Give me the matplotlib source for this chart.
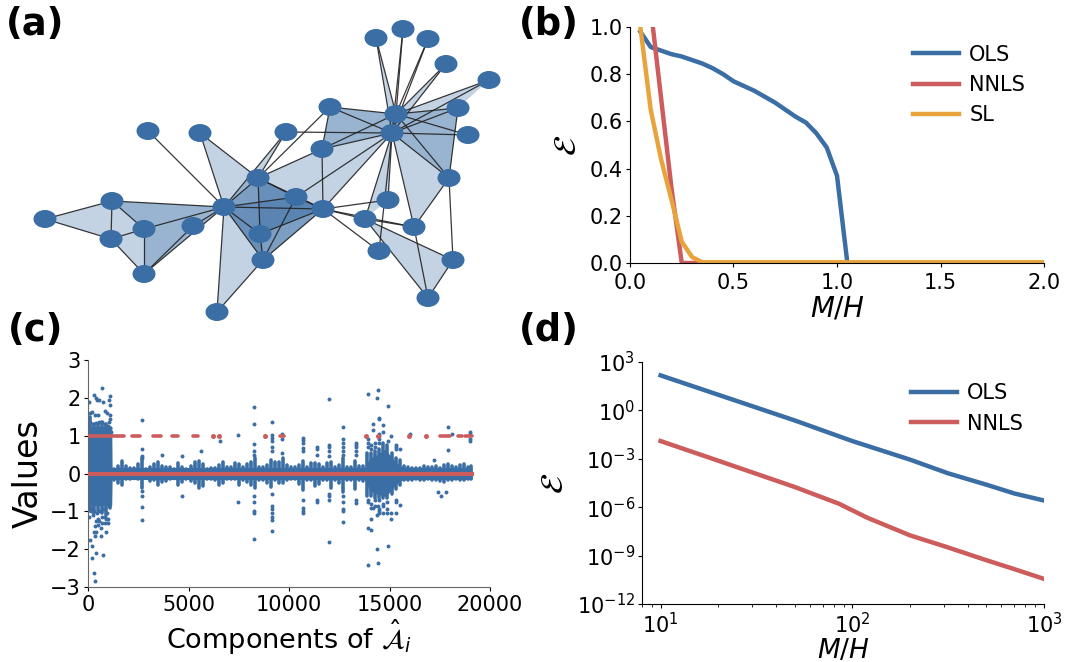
import matplotlib
matplotlib.use("Agg")
import matplotlib.pyplot as plt
from matplotlib.patches import Ellipse, Polygon
from matplotlib.ticker import NullLocator

BLUE = "#3a6ea5"
RED = "#cd5c5c"
ORANGE = "#e8a33d"
W, H = 1069, 662

# panel a: simplicial complex, node positions read in picture pixels
node_x = [45, 112, 111, 144, 144, 193, 224, 148, 200, 258, 286, 330, 322, 296, 323, 260, 263, 217,
          365, 388, 414, 379, 453, 428, 449, 392, 396, 468, 458, 489, 446, 428, 403, 376]
node_y = [219, 201, 239, 229, 274, 226, 207, 131, 133, 178, 132, 107, 149, 197, 209, 234, 260, 312,
          219, 200, 227, 251, 260, 298, 178, 133, 114, 135, 108, 80, 64, 39, 29, 38]
edges = [(0, 1), (0, 2), (1, 2), (1, 3), (2, 3), (3, 4), (2, 4), (1, 6), (3, 6), (4, 5), (4, 6), (5, 6),
         (7, 6), (8, 6), (8, 9), (9, 6), (9, 10), (6, 10), (9, 11), (9, 12), (9, 13), (9, 15), (9, 14),
         (6, 13), (6, 14), (6, 15), (6, 16), (6, 17), (16, 17), (15, 16), (13, 16), (14, 16), (14, 15),
         (13, 14), (12, 14), (13, 25), (14, 25), (14, 18), (14, 19), (14, 20), (14, 21), (12, 25),
         (12, 26), (11, 12), (11, 25), (11, 26), (10, 25), (18, 25), (19, 25), (21, 25), (18, 20),
         (18, 22), (18, 23), (22, 23), (20, 23), (22, 24), (20, 24), (20, 25), (24, 25), (24, 26),
         (24, 28), (25, 27), (26, 27), (25, 28), (26, 28), (26, 29), (25, 29), (26, 30), (25, 30),
         (26, 31), (25, 31), (26, 32), (25, 32), (26, 33), (25, 33), (25, 26)]
triangles = [(0, 1, 2), (1, 2, 3), (2, 3, 4), (1, 3, 6), (1, 3, 6), (3, 4, 6), (3, 5, 6), (4, 5, 6), (3, 4, 5),
             (8, 9, 6), (6, 9, 10), (6, 16, 17), (9, 12, 14), (12, 14, 25),
             (6, 9, 14), (6, 14, 16), (9, 14, 16), (6, 9, 16), (6, 15, 16), (9, 13, 14), (9, 14, 15),
             (13, 14, 16), (6, 13, 14), (6, 9, 13), (6, 13, 16), (9, 15, 16), (6, 14, 15),
             (11, 12, 25), (11, 12, 26), (11, 25, 26), (12, 25, 26),
             (24, 25, 26), (24, 25, 28), (24, 26, 28), (25, 26, 28),
             (20, 24, 25), (18, 19, 25), (18, 22, 23), (25, 26, 33), (25, 26, 30), (26, 28, 29)]

# panel b
b_ols_x = [0.05, 0.1, 0.15, 0.2, 0.25, 0.3, 0.35, 0.4, 0.45, 0.5, 0.55, 0.6, 0.65, 0.7, 0.75, 0.8, 0.85,
           0.9, 0.95, 1.0, 1.05, 2.0]
b_ols_y = [0.98, 0.915, 0.90, 0.885, 0.875, 0.86, 0.845, 0.825, 0.80, 0.77, 0.75, 0.73, 0.705, 0.68,
           0.65, 0.62, 0.595, 0.55, 0.49, 0.37, 0.0, 0.0]
b_nnls_x = [0.1, 0.15, 0.2, 0.25, 2.0]
b_nnls_y = [1.08, 0.70, 0.32, 0.0, 0.0]
b_sl_x = [0.05, 0.1, 0.15, 0.2, 0.25, 0.3, 0.35, 2.0]
b_sl_y = [1.0, 0.65, 0.44, 0.27, 0.09, 0.025, 0.003, 0.003]

# panel c: solid body of the blue cloud
solid_x = [0, 1180, 1200, 13700, 13800, 14000, 14400, 14800, 15000, 15300, 15600, 15900, 19100]
solid_hi = [1.25, 1.25, 0.16, 0.16, 0.18, 0.4, 0.5, 0.65, 0.5, 0.3, 0.18, 0.16, 0.16]
solid_lo = [-0.85, -0.85, -0.16, -0.16, -0.18, -0.45, -0.55, -0.6, -0.5, -0.3, -0.18, -0.16, -0.16]

# thin columns on the body, one every 200 components
band_x = [100, 300, 500, 700, 900, 1100, 1300, 1500, 1700, 1900, 2100, 2300, 2500, 2700, 2900, 3100,
          3300, 3500, 3700, 3900, 4100, 4300, 4500, 4700, 4900, 5100, 5300, 5500, 5700, 5900, 6100,
          6300, 6500, 6700, 6900, 7100, 7300, 7500, 7700, 7900, 8100, 8300, 8500, 8700, 8900, 9100,
          9300, 9500, 9700, 9900, 10100, 10300, 10500, 10700, 10900, 11100, 11300, 11500, 11700,
          11900, 12100, 12300, 12500, 12700, 12900, 13100, 13300, 13500, 13700, 13900, 14100, 14300,
          14500, 14700, 14900, 15100, 15300, 15500, 15700, 15900, 16100, 16300, 16500, 16700, 16900,
          17100, 17300, 17500, 17700, 17900, 18100, 18300, 18500, 18700, 18900, 19050]
band_hi = [1.5, 1.3, 1.3, 1.35, 1.3, 1.2, 0.13, 0.2, 0.32, 0.2, 0.14, 0.15, 0.25, 0.42, 0.13, 0.18,
           0.24, 0.3, 0.2, 0.16, 0.18, 0.13, 0.28, 0.18, 0.12, 0.2, 0.3, 0.34, 0.25, 0.12, 0.14,
           0.14, 0.22, 0.3, 0.18, 0.18, 0.28, 0.24, 0.16, 0.26, 0.3, 0.4, 0.18, 0.18, 0.22, 0.35,
           0.3, 0.3, 0.4, 0.22, 0.18, 0.18, 0.22, 0.34, 0.18, 0.28, 0.28, 0.24, 0.16,
           0.28, 0.3, 0.18, 0.22, 0.42, 0.18, 0.16, 0.34, 0.2, 0.2, 0.55, 0.55, 0.6,
           0.65, 0.8, 0.75, 0.55, 0.4, 0.35, 0.2, 0.18, 0.14, 0.14, 0.15, 0.2, 0.16,
           0.18, 0.2, 0.15, 0.22, 0.24, 0.2, 0.18, 0.22, 0.25, 0.18, 0.2]
band_lo = [-1.0, -1.05, -1.0, -1.05, -1.1, -0.9, -0.18, -0.25, -0.3, -0.14, -0.14, -0.13, -0.14, -0.38,
           -0.12, -0.2, -0.18, -0.3, -0.22, -0.2, -0.14, -0.12, -0.3, -0.22, -0.14, -0.2, -0.24, -0.38,
           -0.34, -0.14, -0.14, -0.18, -0.3, -0.24, -0.14, -0.14, -0.14, -0.3, -0.18, -0.22, -0.3, -0.38,
           -0.18, -0.18, -0.24, -0.35, -0.18, -0.24, -0.24, -0.18, -0.14, -0.14, -0.28, -0.44, -0.18, -0.18,
           -0.34, -0.28, -0.18, -0.18, -0.38, -0.18, -0.24, -0.48, -0.18, -0.18, -0.42, -0.18, -0.2, -0.6, -0.6,
           -0.65, -0.65, -0.65, -0.65, -0.55, -0.42, -0.3, -0.18, -0.16, -0.16, -0.15, -0.18, -0.16,
           -0.14, -0.16, -0.18, -0.2, -0.22, -0.16, -0.16, -0.15, -0.18, -0.18, -0.15, -0.15]

# loose blue points of the left block
left_x = [50, 300, 400, 450, 550, 700, 750, 850, 950, 1050, 1100, 1100, 100, 200, 350, 500, 1100, 1100,
          100, 250, 400, 550, 700, 850, 1000, 1100, 1150, 1050,
          50, 80, 180, 220, 380, 750, 320, 350, 350, 300, 400, 650, 900, 650, 1000, 1000, 850, 500, 500,
          350, 300, 150, 150, 250, 450, 600, 700, 800, 950, 1050, 550, 700, 850, 900, 400]
left_y = [1.9, 2.08, 2.0, 1.95, 1.95, 2.27, 1.9, 1.65, 1.6, 1.95, 2.05, 1.8, 1.6, 1.62, 1.55, 1.55, 1.55, 1.45,
          1.35, 1.3, 1.33, 1.35, 1.36, 1.3, 1.25, 1.2, 1.1, 1.35,
          -1.15, -1.75, -1.92, -2.23, -2.1, -2.15, -2.62, -2.83, -1.65, -1.55, -1.55, -1.65, -1.55,
          -1.45, -1.32, -1.2, -1.15, -1.35, -1.2, -1.4, -1.0, -1.0, -0.9, -1.1, -1.05, -1.0, -1.15, -0.95,
          -1.05, -0.85, -1.25, -1.3, -1.3, -1.2, -1.25]

# spikes of loose points above and below the band
spike_x = [2700, 3700, 4700, 5600, 6550, 7450, 8250, 9150, 9650, 10700, 11400, 12000, 12700, 13350,
           13950, 14100, 14200, 14300, 14400, 14450, 14500, 14700, 14900, 14950, 15050, 15300, 15500,
           16000, 17200, 17400, 17550, 17800, 17900, 18100, 19000]
spike_vals = [[1.42, 0.66, 0.47, 0.4, -0.45, -0.6, -0.88, -1.24], [0.48], [0.47, -0.6], [0.6], [0.85],
              [1.02, -0.75], [1.75, 1.32, 0.78, 0.6, 0.5, -0.6, -0.75, -1.0, -1.05, -1.72],
              [1.35, 1.02, 0.95, 0.85, 0.7, 0.6, -0.55, -0.85, -0.95, -1.05, -1.15, -1.22, -1.52],
              [1.05, 0.9, 0.55], [0.95, 0.88, 0.8, 0.68, 0.6, -0.7, -0.9, -0.98, -1.05],
              [0.7, 0.65, 0.5, -0.7, -0.75], [1.98, 0.75, 0.7, 0.6, 0.45, -0.55, -0.6, -0.7, -1.82],
              [1.22, 0.92, 0.8, 0.7, 0.6, 0.5, -0.6, -0.75, -0.95, -1.0, -1.28],
              [0.8, 0.75, 0.7, 0.6, 0.5, -0.7, -0.78],
              [2.1, 0.9, 0.7, 0.8, -0.7, -0.75, -1.43, -2.43], [0.65, 0.75, -0.8, -0.9, -1.2, -1.5],
              [1.3, 1.15, -0.9], [0.7, 0.8, -0.7, -0.85], [2.0, -1.1, -2.0], [2.2, -0.85, -2.36],
              [1.48, 1.45, 1.05, 1.0, 0.9, 0.8, -0.7, -0.95, -1.0, -1.05], [1.28, 1.1, -0.8, -0.85, -1.05],
              [-0.75, -0.95, -1.05], [1.78, 0.85, -1.91], [1.0, -1.05, -1.2], [0.75, 0.7, 0.65, -0.7, -0.75, -1.05],
              [0.65, -0.82], [1.05], [0.37], [-0.48], [-0.6], [-0.5], [1.24, 0.62], [1.05],
              [1.1, 1.05, 0.9, 0.85]]

# red estimate: components at 1 come in short runs and single dots
one_start = [0, 2170, 3230, 4190, 5240, 9540, 17510, 18420, 18760]
one_stop = [1790, 2590, 3630, 4490, 5460, 9740, 18010, 18590, 19100]
one_dots = [6230, 6530, 8800, 13830, 14440, 15970, 16800]
zero_x = [0, 19100]
zero_y = [0, 0]

# panel d
d_x = [10, 20, 50, 100, 200, 316, 500, 700, 1000]
d_ols = [1.48e2, 9.3e0, 2.4e-1, 1.26e-2, 8.9e-4, 1.26e-4, 2.5e-5, 7.1e-6, 2.6e-6]
d_nnls_x = [10, 20, 50, 85, 120, 200, 316, 500, 700, 1000]
d_nnls = [1.26e-2, 7.6e-4, 1.8e-5, 1.66e-6, 2.2e-7, 1.8e-8, 3.2e-9, 5.2e-10, 1.45e-10, 3.6e-11]


def box(left, top, right, bottom):
    return [left / W, 1 - bottom / H, (right - left) / W, (bottom - top) / H]


def clean(ax, xpad=4):
    ax.spines["top"].set_visible(False)
    ax.spines["right"].set_visible(False)
    ax.tick_params(labelsize=15, length=3)
    ax.tick_params(axis="x", pad=xpad)
    ax.tick_params(axis="y", pad=2)


def legend(ax, anchor):
    ax.legend(frameon=False, fontsize=15, loc="upper right", bbox_to_anchor=anchor, handlelength=2.2,
              handletextpad=0.5, labelspacing=0.5)


fig = plt.figure(figsize=(W / 100, H / 100), dpi=100)

# (a)
ax = fig.add_axes([0, 0, 1, 1])
ax.set_xlim(0, W)
ax.set_ylim(H, 0)
ax.axis("off")
for tri in triangles:
    pts = [(node_x[i], node_y[i]) for i in tri]
    ax.add_patch(Polygon(pts, closed=True, facecolor=BLUE, alpha=0.3, edgecolor="none"))
for i, j in edges:
    ax.plot([node_x[i], node_x[j]], [node_y[i], node_y[j]], color="#222222", lw=0.9, alpha=0.9)
for x, y in zip(node_x, node_y):
    ax.add_patch(Ellipse((x, y), 23, 18, facecolor=BLUE, edgecolor="none", zorder=3))

# (b)
ax = fig.add_axes(box(630, 27, 1044, 263))
ax.plot(b_ols_x, b_ols_y, color=BLUE, lw=3.2, label="OLS")
ax.plot(b_nnls_x, b_nnls_y, color=RED, lw=3.2, label="NNLS")
ax.plot(b_sl_x, b_sl_y, color=ORANGE, lw=3.2, label="SL")
ax.set_xlim(0, 2)
ax.set_ylim(0, 1)
ax.set_xticks([0, 0.5, 1, 1.5, 2])
ax.set_yticks([0, 0.2, 0.4, 0.6, 0.8, 1])
ax.set_xlabel("$M/H$", fontsize=20, labelpad=1)
ax.set_ylabel(r"$\mathcal{E}$", fontsize=23, labelpad=5)
clean(ax)
legend(ax, (1.0, 1.005))

# (c)
ax = fig.add_axes(box(88, 360, 490, 587))
ax.fill_between(solid_x, solid_lo, solid_hi, color=BLUE, linewidth=0)
lines = ax.vlines(band_x, band_lo, band_hi, color=BLUE, lw=2.6)
lines.set_capstyle("round")
ax.scatter(left_x, left_y, s=8, color=BLUE, linewidths=0)
for x, vals in zip(spike_x, spike_vals):
    ax.scatter([x] * len(vals), vals, s=8, color=BLUE, linewidths=0)
ones = ax.hlines([1] * len(one_start), one_start, one_stop, color=RED, lw=2.6, zorder=4)
ones.set_capstyle("round")
ax.scatter(one_dots, [1] * len(one_dots), s=13, color=RED, linewidths=0, zorder=4)
ax.plot(zero_x, zero_y, color=RED, lw=2.9, zorder=4)
ax.set_xlim(0, 20000)
ax.set_ylim(-3, 3)
ax.set_xticks([0, 5000, 10000, 15000, 20000])
ax.set_yticks([-3, -2, -1, 0, 1, 2, 3])
ax.set_xlabel(r"Components of $\hat{\mathcal{A}}_i$", fontsize=19.5, labelpad=2)
ax.set_ylabel("Values", fontsize=24, labelpad=4)
clean(ax, xpad=3)
ax.spines["left"].set_color("#666666")
ax.spines["bottom"].set_color("#666666")

# (d)
ax = fig.add_axes(box(642, 362, 1044, 604))
ax.plot(d_x, d_ols, color=BLUE, lw=3.2, label="OLS")
ax.plot(d_nnls_x, d_nnls, color=RED, lw=3.2, label="NNLS")
ax.set_xscale("log")
ax.set_yscale("log")
ax.set_xlim(8, 1000)
ax.set_ylim(1e-12, 1e3)
ax.set_yticks([1e-12, 1e-9, 1e-6, 1e-3, 1e0, 1e3])
ax.yaxis.set_minor_locator(NullLocator())
ax.set_xlabel("$M/H$", fontsize=19, labelpad=0)
ax.set_ylabel(r"$\mathcal{E}$", fontsize=23, labelpad=5)
clean(ax, xpad=3)
legend(ax, (0.995, 0.99))

for label, x, y in [("(a)", 6, 35), ("(b)", 519, 35), ("(c)", 8, 341), ("(d)", 519, 341)]:
    fig.text(x / W, 1 - y / H, label, fontsize=26.5, fontweight="bold", ha="left", va="baseline")

fig.savefig("out.png", dpi=100)
